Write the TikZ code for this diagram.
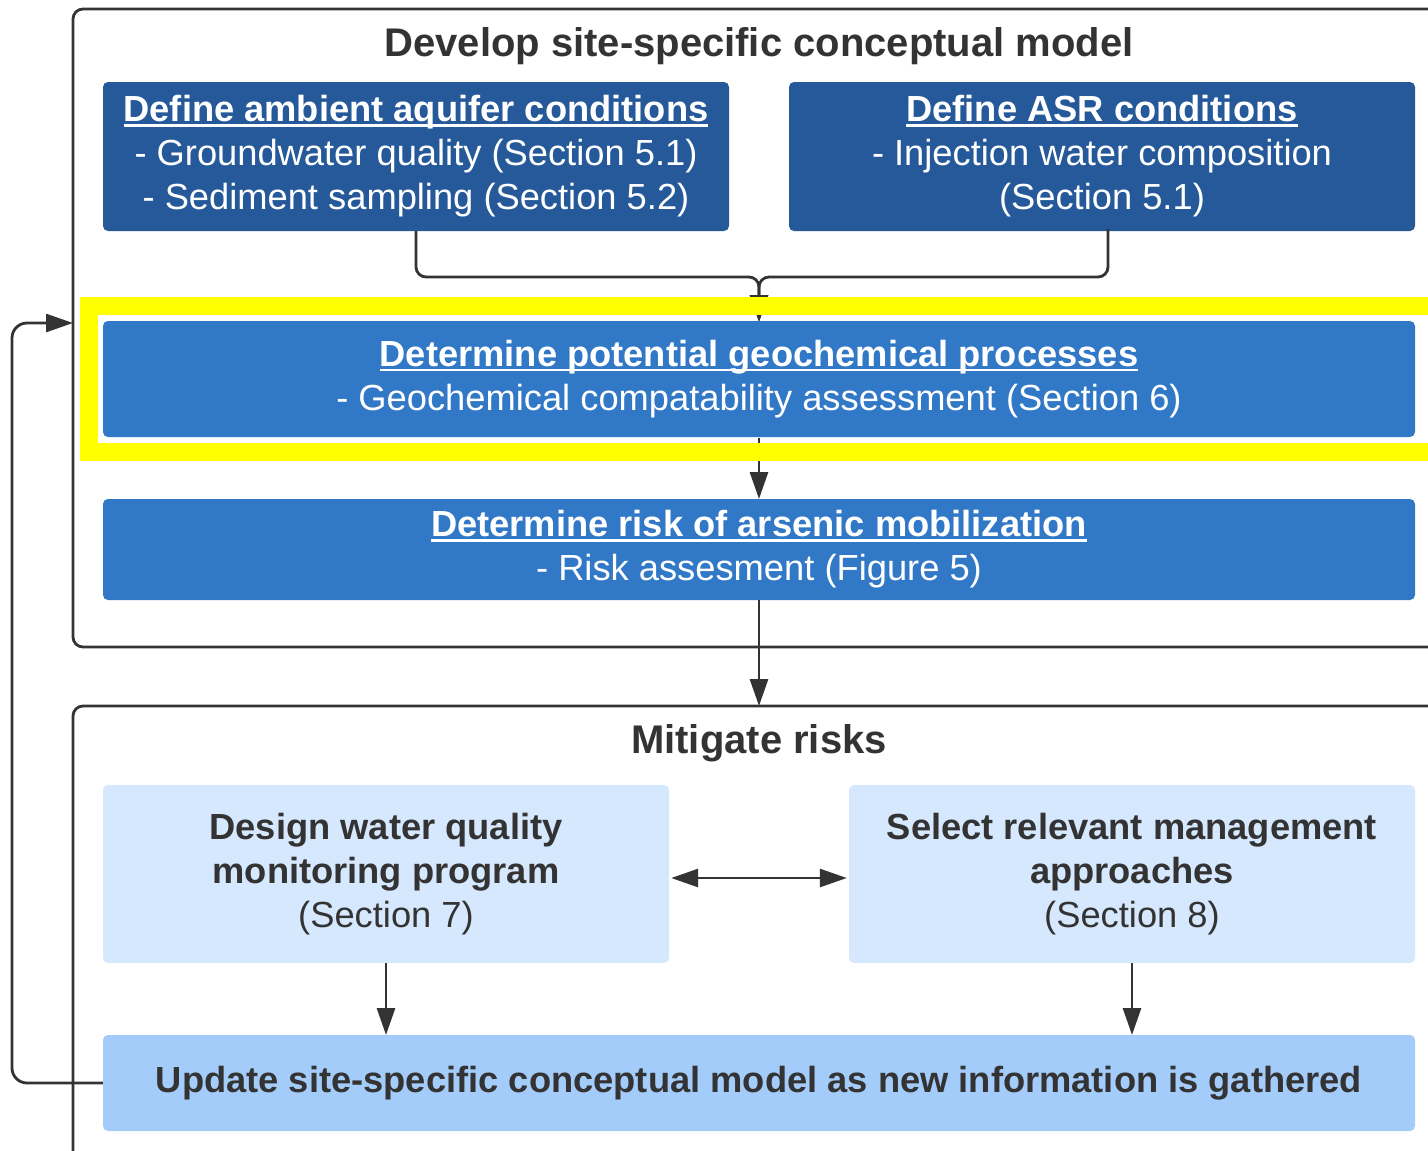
\documentclass[tikz,border=0pt]{standalone}
\usepackage{fontspec}
\setmainfont{Liberation Sans}
\usetikzlibrary{arrows.meta}
\definecolor{darkblue}{RGB}{37,89,153}
\definecolor{midblue}{RGB}{49,120,199}
\definecolor{paleblue}{RGB}{214,232,253}
\definecolor{lightblue}{RGB}{164,204,250}
\definecolor{linegray}{RGB}{51,51,51}
\definecolor{txtgray}{RGB}{51,51,51}
\definecolor{hiyellow}{RGB}{255,255,0}
\newcommand\myul[1]{\setbox0\hbox{#1}\rlap{\rule[-5pt]{\wd0}{2.5pt}}\box0}
\begin{document}
\begin{tikzpicture}[x=1pt,y=-1pt,
  frame/.style={draw=linegray, line width=2.8pt, rounded corners=10pt},
  boxbase/.style={rounded corners=5pt, align=center, inner sep=0pt,
    font=\fontsize{36.3}{44}\selectfont},
  darkbox/.style={boxbase, fill=darkblue, text=white, minimum width=626pt, minimum height=149pt},
  midbox/.style={boxbase, fill=midblue, text=white, minimum width=1312pt},
  palebox/.style={boxbase, fill=paleblue, text=txtgray, minimum width=566pt, minimum height=178pt},
  updbox/.style={boxbase, fill=lightblue, text=txtgray, minimum width=1312pt, minimum height=96pt},
  headtext/.style={text=txtgray, font=\fontsize{40}{48}\selectfont\bfseries, inner sep=0pt},
  conn/.style={draw=linegray, line width=2.8pt},
  tip/.style={-{Triangle[length=27pt,width=18pt]}},
]
\useasboundingbox (0,0) rectangle (1428,1151);
\clip (0,0) rectangle (1428,1151);
\fill[white] (0,0) rectangle (1428,1151);

% outer frames
\draw[frame] (73,9) rectangle (1460,647);
\draw[frame] (73,706) rectangle (1460,1190);
\node[headtext] (t1) at (759,46) {Develop site-specific conceptual model};
\node[headtext] (t2) at (759,743) {Mitigate risks};

\coordinate (m2top) at (759,706);
\coordinate (f1left) at (73,323);
\coordinate (merge) at (759,277);

% boxes
\node[darkbox] (A) at (416,156.5) {\myul{\bfseries Define ambient aquifer conditions}\\- Groundwater quality (Section 5.1)\\- Sediment sampling (Section 5.2)};
\node[darkbox] (B) at (1102,156.5) {\myul{\bfseries Define ASR conditions}\\- Injection water composition\\(Section 5.1)};
\coordinate (Bout) at (1108,229);

% connectors under highlight
\draw[conn, tip, rounded corners=10pt] (A.south) |- (merge) -- (759,322);
\draw[conn, tip, rounded corners=10pt] (Bout) |- (merge) -- (759,322);
\draw[conn, tip] (759,438) -- (759,499);

% highlight
\draw[hiyellow, line width=18pt] (89,306) rectangle (1437,452);

\node[midbox, minimum height=116pt] (C) at (759,379) {\myul{\bfseries Determine potential geochemical processes}\\- Geochemical compatability assessment (Section 6)};
\node[midbox, minimum height=101pt] (D) at (759,549.5) {\myul{\bfseries Determine risk of arsenic mobilization}\\- Risk assesment (Figure 5)};

\draw[conn, tip] (D.south) -- (m2top);

\node[palebox] (E) at (386,874) {\bfseries Design water quality\\\bfseries monitoring program\\(Section 7)};
\node[palebox] (F) at (1132,874) {\bfseries Select relevant management\\\bfseries approaches\\(Section 8)};
\node[updbox] (G) at (759,1083) {\bfseries Update site-specific conceptual model as new information is gathered};

\draw[conn, {Triangle[length=27pt,width=18pt]}-{Triangle[length=27pt,width=18pt]}, shorten <=2pt, shorten >=2pt] ([yshift=-4pt]E.east) -- ([yshift=-4pt]F.west);
\draw[conn, tip] (E.south) -- (386,1035);
\draw[conn, tip] (F.south) -- (1132,1035);
\draw[conn, tip, rounded corners=15pt] (G.west) -- (12,1083) -- (12,323) -- (f1left);
\end{tikzpicture}
\end{document}
